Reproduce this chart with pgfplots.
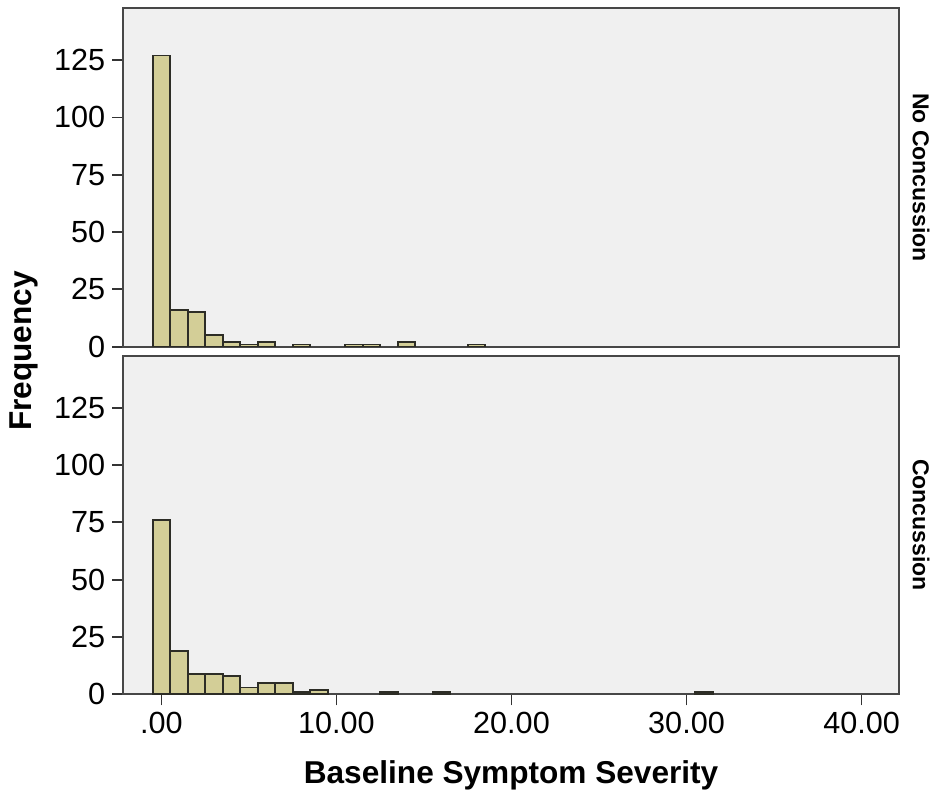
\documentclass[border=0pt]{standalone}
\usepackage{fontspec}
\setmainfont{Liberation Sans}
\usepackage{pgfplots}
\pgfplotsset{compat=1.18}
\definecolor{barfill}{RGB}{211,206,151}
\definecolor{bggray}{RGB}{240,240,240}
\definecolor{edgec}{RGB}{45,45,38}
\pgfplotsset{panel/.style={
  scale only axis, width=387.85pt, height=169.3pt,
  xmin=-2.18, xmax=42.14, ymin=0, ymax=147.7,
  axis background/.style={fill=bggray},
  axis line style={draw=black!72, line width=0.9pt},
  ytick={0,25,50,75,100,125},
  xtick pos=left, ytick pos=left,
  tick align=outside, major tick length=5.5pt,
  tick style={black!80, line width=0.9pt},
  ticklabel style={font=\fontsize{15.3}{18}\selectfont},
  /pgf/number format/assume math mode=true,
}}
\begin{document}
\begin{tikzpicture}
\begin{axis}[panel, at={(0,0)}, anchor=south west,
  xtick={0,10,20,30,40},
  xticklabels={.00,10.00,20.00,30.00,40.00}]
\addplot[ybar, bar width=1, fill=barfill, draw=edgec, line width=0.9pt] coordinates {
(0,76) (1,19) (2,9) (3,9) (4,8) (5,3) (6,5) (7,5) (8,1) (9,2) (13,1) (16,1) (31,1)};
\end{axis}
\begin{axis}[panel, at={(0,173.8pt)}, anchor=south west, xtick=\empty]
\addplot[ybar, bar width=1, fill=barfill, draw=edgec, line width=0.9pt] coordinates {
(0,127) (1,16) (2,15) (3,5) (4,2) (5,1) (6,2) (8,1) (11,1) (12,1) (14,2) (18,1)};
\end{axis}
\node[font=\fontsize{15.8}{18}\selectfont\bfseries] at (193.9pt,-40.3pt) {Baseline Symptom Severity};
\node[font=\fontsize{15.8}{18}\selectfont\bfseries, rotate=90] at (-49.6pt,171.6pt) {Frequency};
\node[font=\fontsize{11.5}{14}\selectfont\bfseries, rotate=-90] at (398.9pt,258.4pt) {No Concussion};
\node[font=\fontsize{11.5}{14}\selectfont\bfseries, rotate=-90] at (398.9pt,84.6pt) {Concussion};
\pgfresetboundingbox
\path[use as bounding box] (-61.65pt,-51.85pt) rectangle (405.35pt,347.15pt);
\end{tikzpicture}
\end{document}
